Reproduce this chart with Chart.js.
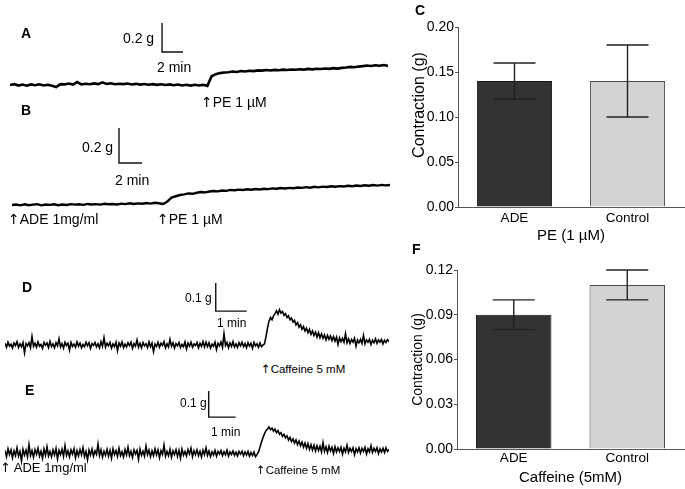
<!DOCTYPE html>
<html>
<head>
<meta charset="utf-8">
<script src="https://cdn.jsdelivr.net/npm/chart.js@4/dist/chart.umd.min.js"></script>
<style>
  body { margin: 0; background: #fff; }
  #wrap { position: relative; width: 685px; height: 489px; overflow: hidden;
          font-family: "Liberation Sans", Arial, sans-serif; color: #000; }
  #wrap canvas { position: absolute; }
  .lbl { position: absolute; line-height: 1; white-space: nowrap; }
  .pan { font-weight: bold; font-size: 14px; }
  .ar { font-family: "DejaVu Sans", sans-serif; font-weight: normal; }
</style>
</head>
<body>
<div id="wrap">
  <canvas id="trA"></canvas>
  <canvas id="trB"></canvas>
  <canvas id="trD"></canvas>
  <canvas id="trE"></canvas>
  <canvas id="barC" width="290" height="245" style="left:395px;top:0px"></canvas>
  <canvas id="barF" width="290" height="244" style="left:395px;top:245px"></canvas>

  <div class="lbl pan" style="left:21px;top:26px">A</div>
  <div class="lbl" style="left:123px;top:31px;font-size:14px">0.2 g</div>
  <div class="lbl" style="left:157px;top:60px;font-size:14px">2 min</div>
  <div class="lbl" style="left:201px;top:95px;font-size:14px"><span class="ar">↑</span>PE 1 µM</div>

  <div class="lbl pan" style="left:21px;top:103px">B</div>
  <div class="lbl" style="left:82px;top:140px;font-size:14px">0.2 g</div>
  <div class="lbl" style="left:115px;top:173px;font-size:14px">2 min</div>
  <div class="lbl" style="left:8px;top:212px;font-size:14px"><span class="ar">↑</span>ADE 1mg/ml</div>
  <div class="lbl" style="left:157px;top:212px;font-size:14px"><span class="ar">↑</span>PE 1 µM</div>

  <div class="lbl pan" style="left:22px;top:280px">D</div>
  <div class="lbl" style="left:185px;top:292px;font-size:12px">0.1 g</div>
  <div class="lbl" style="left:217px;top:317px;font-size:12px">1 min</div>
  <div class="lbl" style="left:261px;top:364px;font-size:11.5px"><span class="ar">↑</span>Caffeine 5 mM</div>

  <div class="lbl pan" style="left:25px;top:383px">E</div>
  <div class="lbl" style="left:180px;top:397px;font-size:12px">0.1 g</div>
  <div class="lbl" style="left:211px;top:426px;font-size:12px">1 min</div>
  <div class="lbl" style="left:0px;top:461px;font-size:13px"><span class="ar">↑</span> ADE 1mg/ml</div>
  <div class="lbl" style="left:256px;top:465px;font-size:11.5px"><span class="ar">↑</span>Caffeine 5 mM</div>

  <div class="lbl pan" style="left:415px;top:3px">C</div>
  <div class="lbl pan" style="left:412px;top:242px">F</div>
</div>

<script>
"use strict";

// tension traces (g), one sample per step (min)
const stepA = 0.4;
const traceA = [
  0.000, 0.006, -0.004, 0.003, -0.005, 0.004, -0.002, 0.005, -0.003, 0.002,
  -0.006, -0.014, 0.006, 0.004, 0.010, 0.003, 0.020, 0.004, 0.009, 0.005,
  0.011, 0.006, 0.018, 0.007, 0.012, 0.005, 0.009, 0.006, 0.010, 0.004,
  0.008, 0.003, 0.007, 0.002, 0.006, 0.001, 0.005, 0.000, 0.004, -0.002,
  0.003, -0.003, 0.002, -0.004, 0.002, -0.003, 0.001, -0.006,
  0.060, 0.075, 0.082, 0.086, 0.088, 0.093, 0.090, 0.096, 0.093, 0.098,
  0.096, 0.101, 0.099, 0.103, 0.100, 0.104, 0.102, 0.106, 0.103, 0.107,
  0.105, 0.109, 0.106, 0.111, 0.108, 0.112, 0.110, 0.114, 0.111, 0.116,
  0.113, 0.118, 0.121, 0.125, 0.122, 0.127, 0.130, 0.134, 0.131, 0.136,
  0.133, 0.138, 0.132
];

const stepB = 0.365;
const traceB = [
  0.000, 0.003, -0.002, 0.004, -0.001, 0.002, 0.005, -0.002, 0.003, 0.001,
  0.004, -0.001, 0.003, 0.000, 0.005, 0.002, 0.004, 0.001, 0.006, 0.003,
  0.005, 0.002, 0.007, 0.004, 0.006, 0.003, 0.008, 0.005, 0.010, 0.006,
  0.009, 0.007, 0.011, 0.008, 0.013, 0.010, 0.006,
  0.020, 0.042, 0.050, 0.057, 0.061, 0.066, 0.064, 0.070, 0.074, 0.072, 0.077, 0.080, 0.078,
  0.083, 0.081, 0.086, 0.084, 0.088, 0.086, 0.090, 0.087, 0.091, 0.089,
  0.093, 0.091, 0.095, 0.093, 0.097, 0.094, 0.098, 0.096, 0.100, 0.098,
  0.102, 0.099, 0.104, 0.101, 0.105, 0.103, 0.107, 0.104, 0.108, 0.106,
  0.110, 0.107, 0.111, 0.109, 0.113, 0.110, 0.114, 0.111, 0.115, 0.112, 0.114
];

const stepD = 0.0484;
const traceD = [
  0.006, -0.008, 0.010, -0.004, 0.003, -0.011, 0.007, -0.002, 0.012, -0.009, 0.004, -0.006, 0.009, -0.028, 0.005, -0.003,
  0.008, -0.010, 0.030, -0.005, 0.006, -0.008, 0.011, -0.004, 0.002, -0.012, 0.009, -0.001, 0.007, -0.009, 0.013, -0.006,
  0.004, -0.010, 0.008, -0.003, 0.022, -0.007, 0.005, -0.011, 0.010, -0.002, 0.006, -0.018, 0.009, -0.005, 0.003, -0.008,
  0.011, -0.004, 0.007, -0.010, 0.002, -0.006, 0.010, -0.003, 0.008, -0.012, 0.005, -0.001, 0.009, -0.007, 0.004, -0.010,
  0.012, -0.005, 0.026, -0.008, 0.006, -0.003, 0.009, -0.011, 0.004, -0.006, 0.010, -0.020, 0.007, -0.004, 0.011, -0.009,
  0.003, -0.007, 0.008, -0.002, 0.010, -0.012, 0.005, -0.004, 0.018, -0.008, 0.006, -0.010, 0.009, -0.003, 0.004, -0.009,
  0.011, -0.006, 0.007, -0.024, 0.003, -0.005, 0.010, -0.008, 0.006, -0.002, 0.012, -0.010, 0.004, -0.007, 0.020, -0.004,
  0.008, -0.011, 0.005, -0.003, 0.009, -0.009, 0.002, -0.006, 0.011, -0.014, 0.007, -0.004, 0.010, -0.008, 0.004, -0.002,
  0.009, -0.010, 0.006, -0.005, 0.012, -0.007, 0.010, -0.006, 0.008, -0.011, 0.003, -0.004, 0.010, -0.016, 0.006, -0.003,
  0.011, -0.008, 0.040, -0.002, 0.009, -0.010, 0.007, -0.005, 0.012, -0.007, 0.004, -0.009, 0.008, -0.003, 0.010, -0.006,
  0.005, -0.010, 0.008, -0.004, 0.006, -0.012, 0.009, -0.003, 0.004, -0.008, 0.007, -0.006, 0.000,
  0.004, 0.030, 0.060, 0.085, 0.098, 0.090, 0.104, 0.112, 0.122, 0.110, 0.126, 0.114, 0.120, 0.106, 0.112, 0.098,
  0.104, 0.090, 0.096, 0.082, 0.088, 0.072, 0.080, 0.064, 0.072, 0.056, 0.066, 0.050, 0.060, 0.044, 0.056, 0.038,
  0.050, 0.034, 0.046, 0.028, 0.044, 0.026, 0.040, 0.024, 0.036, 0.018, 0.034, 0.020, 0.032, 0.016, 0.030, 0.014,
  0.028, 0.002, 0.026, 0.012, 0.024, 0.010, 0.040, 0.008, 0.022, 0.006, 0.020, 0.010, 0.024, -0.004, 0.018, 0.008,
  0.020, 0.006, 0.034, 0.004, 0.018, 0.010, 0.020, 0.002, 0.017, 0.008, 0.022, 0.006, 0.018, 0.010, 0.020, 0.004,
  0.017, 0.009, 0.019, 0.012
];

const stepE = 0.0556;
const traceE = [
  0.010, -0.014, 0.016, -0.006, 0.012, -0.018, 0.008, -0.010, 0.020, -0.012, 0.006, -0.030, 0.014, -0.008, 0.011, -0.015,
  0.032, -0.010, 0.009, -0.016, 0.013, -0.005, 0.018, -0.012, 0.007, -0.020, 0.015, -0.009, 0.024, -0.011, 0.006, -0.014,
  0.012, -0.008, 0.017, -0.022, 0.010, -0.006, 0.014, -0.013, 0.028, -0.009, 0.008, -0.015, 0.012, -0.004, 0.016, -0.018,
  0.009, -0.011, 0.013, -0.007, 0.020, -0.014, 0.006, -0.026, 0.011, -0.008, 0.015, -0.012, 0.008, -0.005, 0.034, -0.010,
  0.012, -0.016, 0.007, -0.009, 0.014, -0.012, 0.010, -0.020, 0.016, -0.006, 0.009, -0.013, 0.018, -0.010, 0.005, -0.015,
  0.013, -0.008, 0.022, -0.011, 0.006, -0.017, 0.012, -0.004, 0.010, -0.024, 0.015, -0.009, 0.007, -0.012, 0.026, -0.006,
  0.011, -0.014, 0.008, -0.010, 0.016, -0.007, 0.012, -0.018, 0.009, -0.005, 0.030, -0.012, 0.006, -0.010, 0.014, -0.016,
  0.008, -0.006, 0.012, -0.013, 0.010, -0.020, 0.015, -0.008, 0.006, -0.011, 0.013, -0.004, 0.018, -0.014, 0.009, -0.007,
  0.012, -0.010, 0.007, -0.015, 0.011, -0.006, 0.020, -0.009, 0.008, -0.013, 0.005, -0.008, 0.010, -0.012, 0.006, -0.004,
  0.009, -0.010, 0.005, -0.007, 0.011, -0.012, 0.004, -0.006, 0.008, -0.009, 0.003, -0.011, 0.006, -0.004, 0.007, -0.010,
  0.004, -0.008, 0.006, -0.012, 0.002, -0.010, 0.004, -0.014, -0.006,
  0.004, 0.022, 0.042, 0.060, 0.074, 0.086, 0.092, 0.100, 0.090, 0.096, 0.084, 0.092, 0.078, 0.086, 0.072, 0.078,
  0.064, 0.072, 0.058, 0.066, 0.050, 0.060, 0.044, 0.054, 0.038, 0.050, 0.032, 0.046, 0.028, 0.042, 0.022, 0.038,
  0.018, 0.036, 0.014, 0.032, 0.012, 0.030, 0.008, 0.028, 0.010, 0.026, 0.004, 0.040, 0.006, 0.024, 0.002, 0.026,
  0.008, 0.022, -0.002, 0.024, 0.004, 0.020, 0.006, 0.022, -0.004, 0.018, 0.004, 0.030, 0.002, 0.018, 0.006, 0.020,
  -0.006, 0.016, 0.004, 0.020, 0.000, 0.018, 0.006, 0.022, -0.004, 0.016, 0.004, 0.028, 0.002, 0.018, 0.006, 0.020,
  -0.002, 0.016, 0.004, 0.018, 0.002, 0.020, 0.006, 0.014
];

// bar charts
const groups = ["ADE", "Control"];
const peMean = [0.14, 0.14];
const peErr = [0.02, 0.04];
const cafMean = [0.09, 0.11];
const cafErr = [0.01, 0.01];
const peTicks = [0, 0.05, 0.10, 0.15, 0.20];
const cafTicks = [0, 0.03, 0.06, 0.09, 0.12];

Chart.defaults.font.family = "'Liberation Sans', Arial, sans-serif";
Chart.defaults.color = "#000";
Chart.defaults.animation = false;

// scale bar drawn in data units through the chart scales
const scaleBar = {
  id: "scaleBar",
  afterDraw(chart, args, opts) {
    const {ctx, scales: {x, y}} = chart;
    const x0 = x.getPixelForValue(opts.t);
    const x1 = x.getPixelForValue(opts.t + opts.dt);
    const y0 = y.getPixelForValue(opts.v);
    const y1 = y.getPixelForValue(opts.v + opts.dv);
    ctx.save();
    ctx.strokeStyle = "#111";
    ctx.lineWidth = 1.4;
    ctx.beginPath();
    ctx.moveTo(x0, y1);
    ctx.lineTo(x0, y0);
    ctx.lineTo(x1, y0);
    ctx.stroke();
    ctx.restore();
  }
};

function makeTrace(id, vals, step, box, bar, lw) {
  const cv = document.getElementById(id);
  cv.width = box.w;
  cv.height = box.h;
  cv.style.left = box.left + "px";
  cv.style.top = box.top + "px";
  const pts = vals.map((v, i) => ({x: i * step, y: v}));
  new Chart(cv, {
    type: "line",
    data: {datasets: [{data: pts, borderColor: "#000", borderWidth: lw, pointRadius: 0, tension: 0}]},
    options: {
      responsive: false,
      layout: {padding: 0},
      clip: false,
      scales: {
        x: {type: "linear", display: false, min: 0, max: (vals.length - 1) * step},
        y: {display: false, max: box.zero / box.k, min: -(box.h - box.zero) / box.k}
      },
      plugins: {legend: {display: false}, tooltip: {enabled: false}, scaleBar: bar}
    },
    plugins: [scaleBar]
  });
}

makeTrace("trA", traceA, stepA, {left: 10, top: 15, w: 378, h: 80, zero: 70, k: 145},
  {t: 14.48, v: 0.228, dt: 2, dv: 0.2}, 2.6);
makeTrace("trB", traceB, stepB, {left: 12, top: 120, w: 378, h: 92, zero: 85, k: 175},
  {t: 9.3, v: 0.24, dt: 2, dv: 0.2}, 2.4);
makeTrace("trD", traceD, stepD, {left: 5, top: 275, w: 384, h: 87, zero: 70, k: 280},
  {t: 6.8, v: 0.121, dt: 1, dv: 0.1}, 1.6);
makeTrace("trE", traceE, stepE, {left: 5, top: 385, w: 384, h: 83, zero: 68, k: 260},
  {t: 7.55, v: 0.138, dt: 1, dv: 0.1}, 1.6);

const errorBars = {
  id: "errorBars",
  afterDatasetsDraw(chart, args, opts) {
    const {ctx} = chart;
    const yScale = chart.scales.y;
    const meta = chart.getDatasetMeta(0);
    const means = chart.data.datasets[0].data;
    ctx.save();
    ctx.strokeStyle = "#222";
    ctx.lineWidth = 1.4;
    meta.data.forEach((bar, i) => {
      const top = yScale.getPixelForValue(means[i] + opts.err[i]);
      const bot = yScale.getPixelForValue(means[i] - opts.err[i]);
      ctx.beginPath();
      ctx.moveTo(bar.x, top); ctx.lineTo(bar.x, bot);
      ctx.moveTo(bar.x - 21, top); ctx.lineTo(bar.x + 21, top);
      ctx.moveTo(bar.x - 21, bot); ctx.lineTo(bar.x + 21, bot);
      ctx.stroke();
    });
    ctx.restore();
  }
};

function makeBars(id, means, errs, ticks, yTitle, xTitle, opt) {
  new Chart(document.getElementById(id), {
    type: "bar",
    data: {
      labels: groups,
      datasets: [{
        data: means,
        backgroundColor: ["#333333", "#d3d3d3"],
        borderColor: ["#1a1a1a", "#4a4a4a"],
        borderWidth: 1,
        borderSkipped: "bottom",
        barPercentage: 0.665,
        categoryPercentage: 1
      }]
    },
    options: {
      responsive: false,
      layout: {padding: {top: opt.padTop, right: 1, left: 0, bottom: 0}},
      scales: {
        x: {
          grid: {display: false, drawTicks: false},
          border: {display: true, color: "#555", width: 1},
          ticks: {font: {size: 13.5}, padding: opt.xPad},
          title: {display: true, text: xTitle, font: {size: 15}, padding: {top: 0, bottom: opt.xTitlePad}},
          afterFit(s) { s.height = opt.xH; }
        },
        y: {
          min: ticks[0],
          max: ticks[ticks.length - 1],
          afterBuildTicks(s) { s.ticks = ticks.map(v => ({value: v})); },
          grid: {drawOnChartArea: false, tickLength: 3, color: "#555"},
          border: {color: "#555", width: 1},
          ticks: {font: {size: 14}, padding: 1, callback: v => v.toFixed(2)},
          title: {display: true, text: yTitle, font: {size: opt.yTitleSize}, padding: {top: opt.yTitlePad, bottom: 0}},
          afterFit(s) { s.width = opt.yW; }
        }
      },
      plugins: {legend: {display: false}, tooltip: {enabled: false}, errorBars: {err: errs}}
    },
    plugins: [errorBars]
  });
}

makeBars("barC", peMean, peErr, peTicks, "\u2003\u2002Contraction (g)", "PE (1 µM)",
  {padTop: 27, xH: 38, xPad: 3, xTitlePad: 0, yW: 63, yTitleSize: 16, yTitlePad: 15});
makeBars("barF", cafMean, cafErr, cafTicks, "Contraction (g)", "Caffeine (5mM)",
  {padTop: 25, xH: 40, xPad: 1, xTitlePad: 2, yW: 62, yTitleSize: 14, yTitlePad: 15});
</script>
</body>
</html>
